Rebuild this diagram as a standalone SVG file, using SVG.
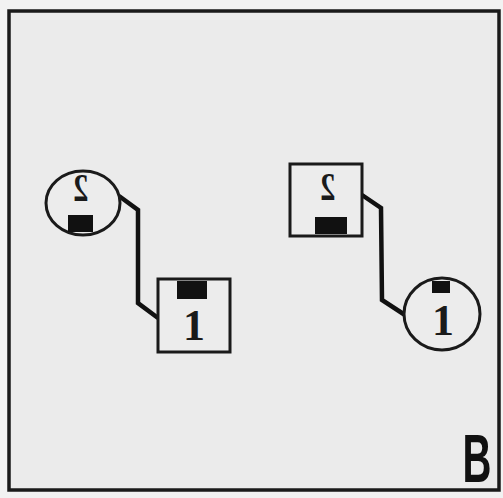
<svg xmlns="http://www.w3.org/2000/svg" width="503" height="498" viewBox="0 0 503 498">
<style>
.node{fill:#ececec;stroke:#1a1a1a;stroke-width:3}
.port{fill:#111}
.lbl{font-family:"Liberation Serif","Times New Roman",serif;font-weight:bold;fill:#1a1a1a;text-anchor:middle}
.two{font-size:38px}
.one{font-size:44px}
.wire{fill:none;stroke:#111;stroke-width:4.5;stroke-linejoin:miter}
</style>
<rect x="0" y="0" width="503" height="498" fill="#f2f2f2"/>
<rect x="9" y="11" width="490" height="479" fill="#ebebeb" stroke="#1a1a1a" stroke-width="3.5"/>
<g id="connectors">
<polyline class="wire" points="119,196 138,210 138,303 158,318"/>
<polyline class="wire" points="362,195 381,208 382,300 405,315"/>
</g>
<g id="left-2">
<ellipse class="node" cx="83" cy="203" rx="37" ry="32"/>
<rect class="port" x="68" y="215" width="25" height="17"/>
<text class="lbl two" transform="translate(81,201) scale(-0.8,1.05)" x="0" y="0">2</text>
</g>
<g id="left-1">
<rect class="node" x="158" y="279" width="72" height="73"/>
<rect class="port" x="177" y="281" width="30" height="18"/>
<text class="lbl one" x="194" y="340">1</text>
</g>
<g id="right-2">
<rect class="node" x="290" y="164" width="72" height="72"/>
<rect class="port" x="315" y="217" width="32" height="17"/>
<text class="lbl two" transform="translate(328,200) scale(-0.8,1.05)" x="0" y="0">2</text>
</g>
<g id="right-1">
<ellipse class="node" cx="442" cy="314" rx="38" ry="36"/>
<rect class="port" x="432" y="281" width="18" height="12"/>
<text class="lbl one" x="443" y="335">1</text>
</g>
<text transform="translate(477,482) scale(0.58,1)" x="0" y="0" font-family="Liberation Sans,Arial,sans-serif" font-weight="bold" font-size="69" text-anchor="middle" fill="#111">B</text>
</svg>
